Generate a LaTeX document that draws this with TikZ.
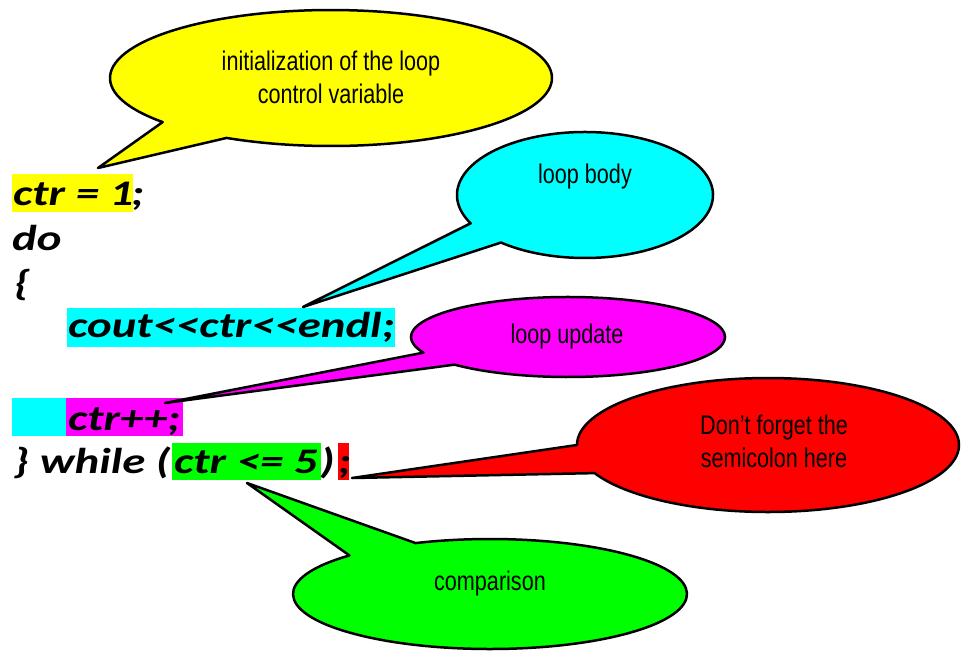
\documentclass[tikz,border=0pt]{standalone}
\usepackage{fontspec}
\setmainfont{Liberation Sans}
\newfontfamily\notefont[FakeStretch=0.8]{Liberation Sans}
\newfontfamily\codefont[FakeStretch=1.3]{Carlito}
\usetikzlibrary{calc}

\definecolor{hlYellow}{RGB}{255,255,0}
\definecolor{hlCyan}{RGB}{0,255,255}
\definecolor{hlMagenta}{RGB}{255,0,255}
\definecolor{hlRed}{RGB}{255,0,0}
\definecolor{hlGreen}{RGB}{0,255,0}

\tikzset{
  balloon/.style={draw=black, line width=2.5pt, line join=round},
  notetext/.style={font=\notefont\fontsize{27}{33}\selectfont, align=center, text=black, inner sep=0pt},
  codeline/.style={font=\codefont\bfseries\itshape\fontsize{36}{40}\selectfont, anchor=base west, inner sep=0pt, text=black},
}

\begin{document}
\begin{tikzpicture}[x=1pt, y=-1pt]
\useasboundingbox[fill=white] (0,0) rectangle (961,651);

% highlighted spans of the code
\fill[hlYellow]  (12,174) rectangle (133,212);
\fill[hlCyan]    (67,308) rectangle (395,347);
\fill[hlCyan]    (12,398) rectangle (66,436);
\fill[hlMagenta] (66,398) rectangle (183,436);
\fill[hlGreen]   (172,443) rectangle (321,480);
\fill[hlRed]     (338,443) rectangle (349,480);

% the do-while loop
\node[codeline] (init)  at (13,205) {ctr = 1};
\node[codeline] (initS) at (131,205) {;};
\node[codeline] (kwdo)  at (12,250) {do};
\node[codeline] (open)  at (14,295) {\{};
\node[codeline] (body)  at (68,337) {cout<{}<ctr<{}<endl;};
\node[codeline] (incr)  at (68,430) {ctr++;};
\node[codeline] (close) at (13,473) {\} while (};
\node[codeline] (cond)  at (174,473) {ctr <= 5};
\node[codeline] (rpar)  at (320,473) {)};
\node[codeline] (semi)  at (338,473) {;};

% tips of the balloons
\coordinate (tipInit) at (98,168);
\coordinate (tipBody) at (303,307);
\coordinate (tipIncr) at (165,403);
\coordinate (tipSemi) at (352,478);
\coordinate (tipCmp)  at (247,483);

% balloon centres
\coordinate (cInit) at (331,78);
\coordinate (cBody) at (585,195);
\coordinate (cIncr) at (568,337);
\coordinate (cSemi) at (768,445);
\coordinate (cCmp)  at (490,594);

% yellow balloon
\filldraw[balloon, fill=hlYellow] (tipInit) -- ($(cInit)+(139.6:221 and 68)$)
  arc[start angle=139.6, end angle=478.2, x radius=221, y radius=68] -- cycle;
\node[notetext] (noteInit) at (331,77) {initialization of the loop\\control variable};

% cyan balloon
\filldraw[balloon, fill=hlCyan] (tipBody) -- ($(cBody)+(153.3:128 and 63)$)
  arc[start angle=153.3, end angle=491, x radius=128, y radius=63] -- cycle;
\node[notetext] (noteBody) at (585,177) {loop body};

% magenta balloon
\filldraw[balloon, fill=hlMagenta] (tipIncr) -- ($(cIncr)+(157:157 and 40)$)
  arc[start angle=157, end angle=496.3, x radius=157, y radius=40] -- cycle;
\node[notetext] (noteIncr) at (567,337) {loop update};

% red balloon
\filldraw[balloon, fill=hlRed] (tipSemi) -- ($(cSemi)+(180:191 and 67)$)
  arc[start angle=180, end angle=515.2, x radius=191, y radius=67] -- cycle;
\node[notetext] (noteSemi) at (774,441) {Don’t forget the\\semicolon here};

% green balloon
\filldraw[balloon, fill=hlGreen] (tipCmp) -- ($(cCmp)+(224.5:197 and 55)$)
  arc[start angle=224.5, end angle=-112.2, x radius=197, y radius=55] -- cycle;
\node[notetext] (noteCmp) at (490,584) {comparison};
\end{tikzpicture}
\end{document}
